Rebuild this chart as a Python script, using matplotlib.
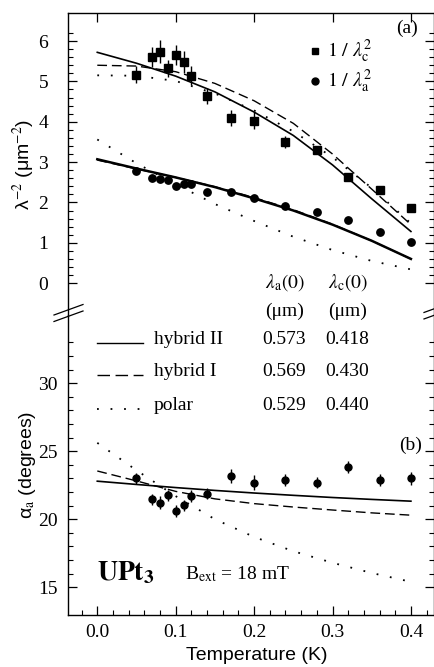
import numpy as np
import matplotlib.pyplot as plt
from matplotlib.ticker import MultipleLocator, FixedLocator, FormatStrFormatter

plt.rcParams['font.family'] = 'Liberation Serif'
plt.rcParams['mathtext.fontset'] = 'stix'

# measured points (same temperatures for all three data sets)
temps = [0.05, 0.07, 0.08, 0.09, 0.10, 0.11, 0.12, 0.14, 0.17, 0.20, 0.24, 0.28, 0.32, 0.36, 0.40]
inv_lc2 = [5.16, 5.60, 5.74, 5.33, 5.66, 5.48, 5.14, 4.64, 4.09, 4.03, 3.49, 3.30, 2.64, 2.31, 1.87]
inv_lc2_err = [0.21, 0.24, 0.29, 0.21, 0.25, 0.28, 0.23, 0.20, 0.20, 0.22, 0.15, 0.10, 0.10, 0.08, 0.08]
inv_la2 = [2.79, 2.61, 2.58, 2.56, 2.40, 2.45, 2.46, 2.25, 2.25, 2.12, 1.90, 1.76, 1.57, 1.26, 1.03]
alpha_a = [23.0, 21.47, 21.23, 21.76, 20.61, 21.03, 21.71, 21.89, 23.18, 22.70, 22.87, 22.70, 23.85, 22.87, 23.0]
alpha_err = [0.38, 0.40, 0.45, 0.42, 0.45, 0.42, 0.42, 0.40, 0.48, 0.52, 0.45, 0.42, 0.42, 0.45, 0.45]

# model curves
t_model = [0.0, 0.05, 0.10, 0.15, 0.20, 0.25, 0.30, 0.35, 0.40]
lc_hyb2 = [5.72, 5.45, 5.13, 4.74, 4.24, 3.66, 2.93, 2.09, 1.28]
lc_hyb1 = [5.40, 5.38, 5.24, 4.95, 4.52, 3.96, 3.20, 2.33, 1.45]
lc_polar = [5.15, 5.14, 5.01, 4.70, 4.28, 3.76, 3.12, 2.36, 1.48]
la_hyb2 = [3.07, 2.84, 2.62, 2.38, 2.10, 1.80, 1.45, 1.05, 0.60]
la_hyb1 = [3.05, 2.83, 2.62, 2.39, 2.12, 1.82, 1.46, 1.05, 0.60]
la_polar = [3.56, 2.97, 2.45, 1.96, 1.54, 1.15, 0.82, 0.55, 0.34]
al_hyb2 = [22.80, 22.56, 22.33, 22.12, 21.93, 21.76, 21.60, 21.46, 21.33]
al_hyb1 = [23.55, 22.82, 22.05, 21.50, 21.15, 20.90, 20.68, 20.47, 20.30]
al_polar = [25.62, 23.60, 21.70, 20.00, 18.70, 17.65, 16.80, 16.05, 15.40]

# table
models = ['hybrid II', 'hybrid I', 'polar']
lam_a0 = ['0.573', '0.569', '0.529']
lam_c0 = ['0.418', '0.430', '0.440']

W, H = 434, 667
fig = plt.figure(figsize=(W / 100, H / 100), dpi=100)


def fx(px):
    return px / W


def fy(py):
    return 1 - py / H


left, right, top, brk, bottom = 67.5, 433.5, 13, 315, 615
ax1 = fig.add_axes([fx(left), fy(brk), fx(right) - fx(left), fy(top) - fy(brk)])
ax2 = fig.add_axes([fx(left), fy(bottom), fx(right) - fx(left), fy(brk) - fy(bottom)])

solid = dict(color='k', lw=1.2, ls='-')
dashed = dict(color='k', lw=1.0, ls=(0, (7, 3.5)))
dotted = dict(color='k', lw=1.3, ls=(0, (1, 6.5)))

# (a) penetration depths
ax1.plot(t_model, lc_hyb2, **solid)
ax1.plot(t_model, lc_hyb1, **dashed)
ax1.plot(t_model, lc_polar, **dotted)
ax1.plot(t_model, la_hyb2, color='k', lw=1.8)
ax1.plot(t_model, la_hyb1, **dashed)
ax1.plot(t_model, la_polar, **dotted)
ax1.errorbar(temps, inv_lc2, yerr=inv_lc2_err, fmt='s', color='k', ms=5.3,
             elinewidth=1.0, capsize=0, zorder=4)
ax1.plot(temps, inv_la2, 'o', color='k', ms=5.3, zorder=4)

# (b) angle
ax2.plot(t_model, al_hyb2, **solid)
ax2.plot(t_model, al_hyb1, **dashed)
ax2.plot(t_model, al_polar, **dotted)
ax2.errorbar(temps, alpha_a, yerr=alpha_err, fmt='o', color='k', ms=5.0,
             elinewidth=1.0, capsize=0, zorder=4)

for ax in (ax1, ax2):
    ax.set_xlim(-0.038, 0.4288)
    ax.xaxis.set_major_locator(FixedLocator([0.0, 0.1, 0.2, 0.3, 0.4]))
    ax.xaxis.set_major_formatter(FormatStrFormatter('%.1f'))
    ax.xaxis.set_minor_locator(MultipleLocator(0.02))
    ax.tick_params(which='both', direction='in', right=True, labelsize=14)
    ax.tick_params(which='major', length=6.5, width=0.9)
    ax.tick_params(which='minor', length=3.3, width=0.8)
    for s in ax.spines.values():
        s.set_linewidth(1.0)

ax1.set_ylim(-0.79, 6.695)
ax1.yaxis.set_major_locator(FixedLocator([0, 1, 2, 3, 4, 5, 6]))
ax1.yaxis.set_minor_locator(FixedLocator(np.arange(0.2, 6.3, 0.2)))
ax1.tick_params(top=True, bottom=False, labelbottom=False)
ax1.tick_params(axis='x', which='both', bottom=False)
ax1.tick_params(axis='y', pad=14)
ax1.spines['bottom'].set_visible(False)

ax2.set_ylim(12.96, 35.02)
ax2.yaxis.set_major_locator(FixedLocator([15, 20, 25, 30]))
ax2.yaxis.set_minor_locator(FixedLocator(np.arange(16, 34, 1)))
ax2.tick_params(axis='x', which='both', top=False, pad=6.5)
ax2.tick_params(axis='y', pad=7)
ax2.spines['top'].set_visible(False)

ax1.set_ylabel('λ$^{-2}$ (μm$^{-2}$)', family='Liberation Sans', fontsize=14)
ax1.yaxis.set_label_coords(-0.082, 0.5)
ax2.set_ylabel(r'α$_{\rm a}$ (degrees)', family='Liberation Sans', fontsize=14)
ax2.yaxis.set_label_coords(-0.08, 0.5)
ax2.set_xlabel('Temperature (K)', family='Liberation Sans', fontsize=14)
ax2.xaxis.set_label_coords((256.5 - left) / (right - left), -0.108)

# break marks
for y0 in (304.5, 311):
    for x0, x1 in ((54, 83), (424, 446)):
        fig.add_artist(plt.Line2D([fx(x0), fx(x1)], [fy(y0 + 10.5 * (x1 - x0) / 29), fy(y0)],
                                  color='k', lw=0.9))

# legend of the data
fig.add_artist(plt.Line2D([fx(315)], [fy(51)], marker='s', ms=5.0, color='k'))
fig.add_artist(plt.Line2D([fx(315)], [fy(81)], marker='o', ms=5.0, color='k'))
fig.text(fx(327), fy(51), r'$1\ /\ \lambda_{\rm c}^{2}$', fontsize=14.5, va='center')
fig.text(fx(327), fy(81), r'$1\ /\ \lambda_{\rm a}^{2}$', fontsize=14.5, va='center')
fig.text(fx(418), fy(28), '(a)', fontsize=14, ha='right', va='center')
fig.text(fx(422), fy(445), '(b)', fontsize=14, ha='right', va='center')

# table of model parameters
fig.text(fx(285), fy(283), r'$\lambda_{\rm a}(0)$', fontsize=14, ha='center', va='center')
fig.text(fx(348), fy(283), r'$\lambda_{\rm c}(0)$', fontsize=14, ha='center', va='center')
fig.text(fx(285), fy(311), '(μm)', fontsize=14, ha='center', va='center')
fig.text(fx(348), fy(311), '(μm)', fontsize=14, ha='center', va='center')
row_y = [340, 372, 406]
styles = [dict(color='k', lw=1.0, ls='-'), dict(color='k', lw=1.0, ls=(0, (9, 4))),
          dict(color='k', lw=1.3, ls=(0, (1, 6.5)))]
for name, a0, c0, yy, st in zip(models, lam_a0, lam_c0, row_y, styles):
    fig.add_artist(plt.Line2D([fx(97), fx(143)], [fy(yy + 3), fy(yy + 3)], **st))
    fig.text(fx(154), fy(yy), name, fontsize=14, va='center')
    fig.text(fx(284), fy(yy), a0, fontsize=14, ha='center', va='center')
    fig.text(fx(347), fy(yy), c0, fontsize=14, ha='center', va='center')

fig.text(fx(97), fy(580), r'$\mathbf{UPt_3}$', fontsize=20, va='baseline')
fig.text(fx(185), fy(579), r'B$_{\rm ext}$ = 18 mT', fontsize=14, va='baseline')

fig.savefig('out.png', dpi=100)
